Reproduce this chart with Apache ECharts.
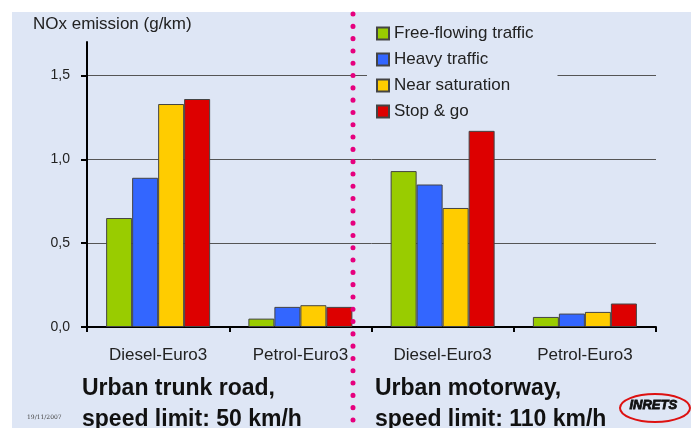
<!DOCTYPE html>
<html>
<head>
<meta charset="utf-8">
<script src="https://cdn.jsdelivr.net/npm/echarts@6/dist/echarts.min.js"></script>
<style>
html,body{margin:0;padding:0;background:#fff;}
#chart{width:691px;height:428px;}
</style>
</head>
<body>
<div id="chart"></div>
<script>
// categories: road type x fuel
var categories = ['Diesel-Euro3', 'Petrol-Euro3', 'Diesel-Euro3', 'Petrol-Euro3'];
var seriesNames = ['Free-flowing traffic', 'Heavy traffic', 'Near saturation', 'Stop & go'];
// NOx g/km
var freeFlowing = [0.65, 0.05, 0.93, 0.06];
var heavy = [0.89, 0.12, 0.85, 0.08];
var nearSat = [1.33, 0.13, 0.71, 0.09];
var stopGo = [1.36, 0.12, 1.17, 0.14];
var yTicks = [0, 0.5, 1.0, 1.5];

var colors = ['#99cc00', '#3366ff', '#ffcc00', '#dd0000'];
var allData = [freeFlowing, heavy, nearSat, stopGo];

var myChart = echarts.init(document.getElementById('chart'));

var series = [];
for (var i = 0; i < seriesNames.length; i++) {
	series.push({
		name: seriesNames[i],
		type: 'bar',
		data: allData[i],
		barWidth: 26,
		barGap: '0%',
		itemStyle: {
			color: colors[i],
			borderColor: '#444',
			borderWidth: 1
		}
	});
}

var option = {
	backgroundColor: '#ffffff',
	animation: false,
	title: [
		{
			text: 'NOx emission (g/km)',
			left: 33, top: 16,
			padding: 0,
			textStyle: {fontFamily: 'Liberation Sans', fontSize: 17, fontWeight: 'normal', color: '#222'}
		},
		{
			text: 'Urban trunk road,\nspeed limit: 50 km/h',
			left: 82, top: 373,
			padding: 0,
			textStyle: {fontFamily: 'Liberation Sans', fontSize: 23, fontWeight: 'bold', color: '#111', lineHeight: 31}
		},
		{
			text: 'Urban motorway,\nspeed limit: 110 km/h',
			left: 375, top: 373,
			padding: 0,
			textStyle: {fontFamily: 'Liberation Sans', fontSize: 23, fontWeight: 'bold', color: '#111', lineHeight: 31}
		},
		{
			text: '19/11/2007',
			left: 27, top: 414,
			padding: 0,
			textStyle: {fontFamily: 'DejaVu Serif', fontSize: 6, fontWeight: 'normal', color: '#444'}
		}
	],
	legend: {
		orient: 'vertical',
		left: 367, top: 17,
		padding: [8, 24, 8, 9],
		backgroundColor: '#dee6f5',
		itemWidth: 12, itemHeight: 12, itemGap: 9,
		icon: 'rect',
		textStyle: {fontFamily: 'Liberation Sans', fontSize: 17, color: '#222'},
		data: seriesNames
	},
	grid: {left: 87, right: 35, top: 42, bottom: 101, containLabel: false},
	xAxis: {
		type: 'category',
		data: categories,
		axisLine: {lineStyle: {color: '#000', width: 2}},
		axisTick: {show: true, length: 5, lineStyle: {color: '#000', width: 2}},
		axisLabel: {fontFamily: 'Liberation Sans', fontSize: 17, color: '#222', margin: 20}
	},
	yAxis: {
		type: 'value',
		min: 0, max: 1.7, interval: 0.5,
		axisLine: {show: true, lineStyle: {color: '#000', width: 2}},
		axisTick: {show: true, length: 6, customValues: yTicks, lineStyle: {color: '#000', width: 2}},
		axisLabel: {
			customValues: yTicks,
			fontFamily: 'Liberation Sans', fontSize: 14, color: '#222', margin: 17,
			formatter: function (v) { return v.toFixed(1).replace('.', ','); }
		},
		splitLine: {show: true, lineStyle: {color: ['#555', '#555', '#555', '#555', 'rgba(0,0,0,0)'], width: 1}}
	},
	graphic: [
		{
			type: 'rect', z: -10, silent: true,
			shape: {x: 12, y: 12, width: 679, height: 416},
			style: {fill: '#dee6f5'}
		},
		{
			type: 'line', z: 100, silent: true,
			shape: {x1: 353, y1: 14, x2: 353, y2: 428},
			style: {stroke: '#e6007e', lineWidth: 5, lineCap: 'round', lineDash: [0.1, 12.2]}
		},
		{
			type: 'ellipse', z: 100, silent: true,
			shape: {cx: 655, cy: 408, rx: 35, ry: 14},
			style: {fill: 'none', stroke: '#dd1111', lineWidth: 2}
		},
		{
			type: 'text', z: 101, silent: true,
			left: 629, top: 399,
			style: {text: 'INRETS', fontFamily: 'Liberation Sans', fontSize: 13, fontWeight: 'bold', fontStyle: 'italic', fill: '#111', stroke: '#111', lineWidth: 0.8}
		}
	],
	series: series
};

myChart.setOption(option);
</script>
</body>
</html>
